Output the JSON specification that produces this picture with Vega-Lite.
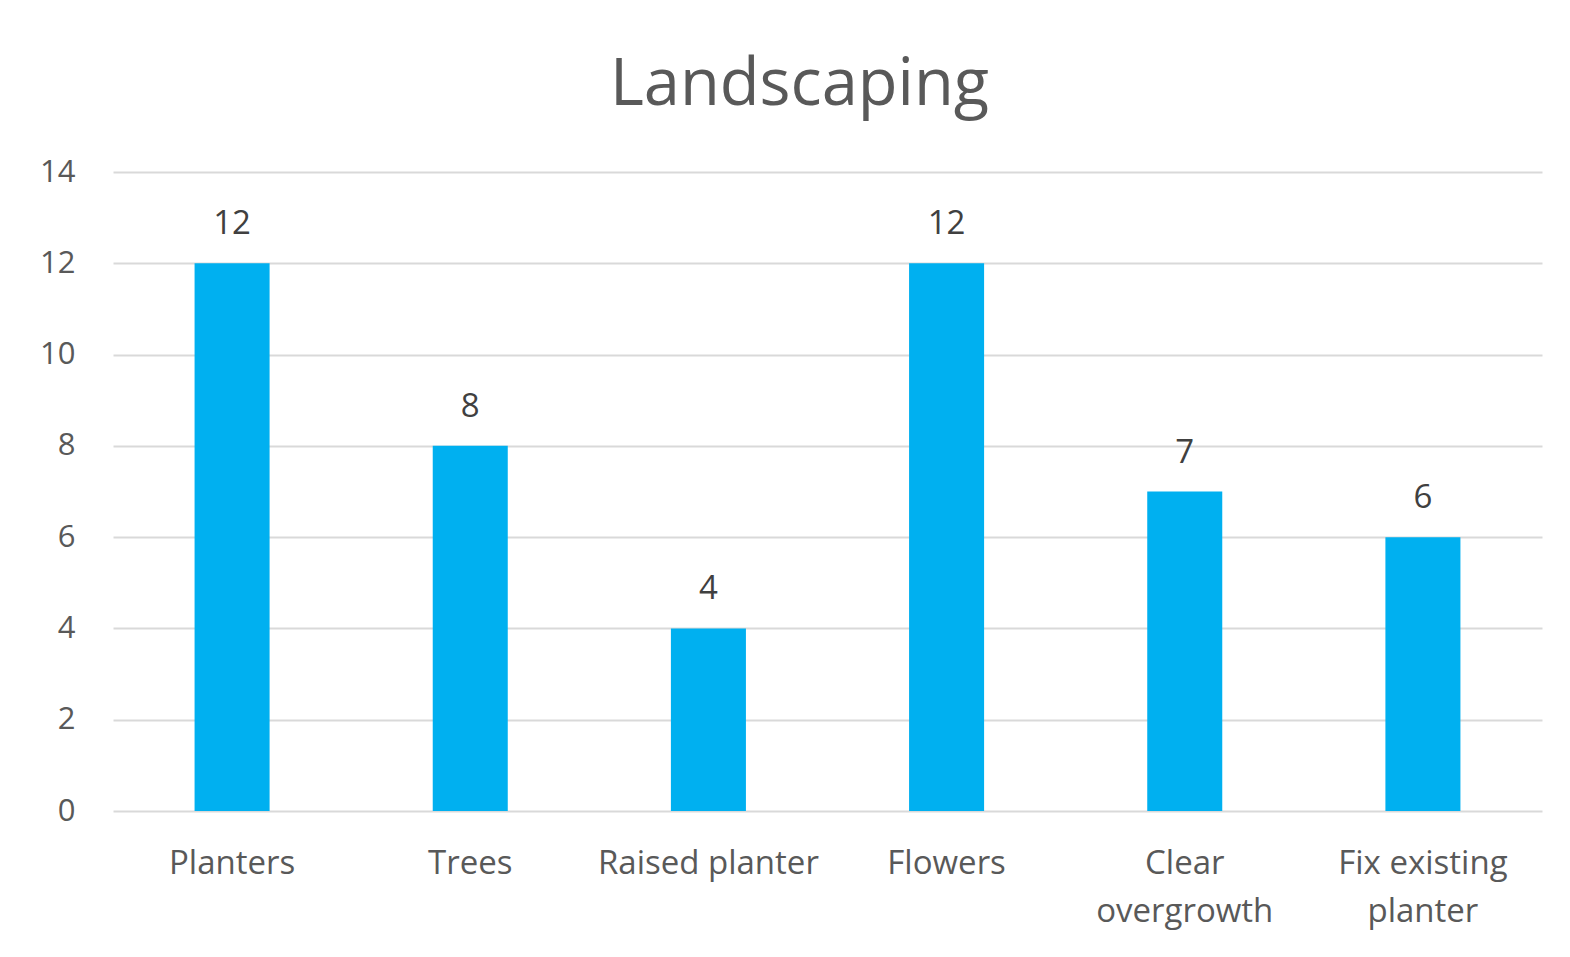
{
  "$schema": "https://vega.github.io/schema/vega-lite/v6.json",
  "autosize": {"type": "none"},
  "padding": {"left": 113, "top": 172, "right": 28, "bottom": 146},
  "width": 1429,
  "height": 639,
  "background": "white",
  "title": {
    "text": "Landscaping",
    "font": "Open Sans",
    "fontSize": 65,
    "fontWeight": "normal",
    "color": "#595959",
    "anchor": "middle",
    "dx": -28,
    "offset": 37
  },
  "data": {
    "values": [
      {"task": "Planters", "count": 12},
      {"task": "Trees", "count": 8},
      {"task": "Raised planter", "count": 4},
      {"task": "Flowers", "count": 12},
      {"task": "Clear overgrowth", "count": 7},
      {"task": "Fix existing planter", "count": 6}
    ]
  },
  "config": {
    "view": {"stroke": null},
    "font": "Open Sans"
  },
  "encoding": {
    "x": {
      "field": "task",
      "type": "nominal",
      "sort": null,
      "scale": {"paddingInner": 0.685, "paddingOuter": 0.3425},
      "axis": {
        "title": null,
        "labelAngle": 0,
        "labelFont": "Open Sans",
        "labelFontSize": 33,
        "labelColor": "#595959",
        "labelPadding": 36,
        "labelLineHeight": 48,
        "labelBaseline": "top",
        "labelLimit": 0,
        "ticks": false,
        "domain": false,
        "labelExpr": "datum.label == 'Clear overgrowth' ? ['Clear', 'overgrowth'] : datum.label == 'Fix existing planter' ? ['Fix existing', 'planter'] : datum.label"
      }
    },
    "y": {
      "field": "count",
      "type": "quantitative",
      "scale": {"domain": [0, 14]},
      "axis": {
        "title": null,
        "values": [0, 2, 4, 6, 8, 10, 12, 14],
        "labelFont": "Open Sans",
        "labelFontSize": 31,
        "labelColor": "#595959",
        "labelPadding": 38,
        "ticks": false,
        "domain": false,
        "gridColor": "#d9d9d9",
        "gridWidth": 2
      }
    }
  },
  "layer": [
    {"mark": {"type": "bar", "color": "#00B0F0"}},
    {
      "mark": {"type": "text", "dy": -39, "fontSize": 33, "font": "Open Sans", "color": "#404040"},
      "encoding": {"text": {"field": "count", "type": "quantitative"}}
    }
  ]
}
